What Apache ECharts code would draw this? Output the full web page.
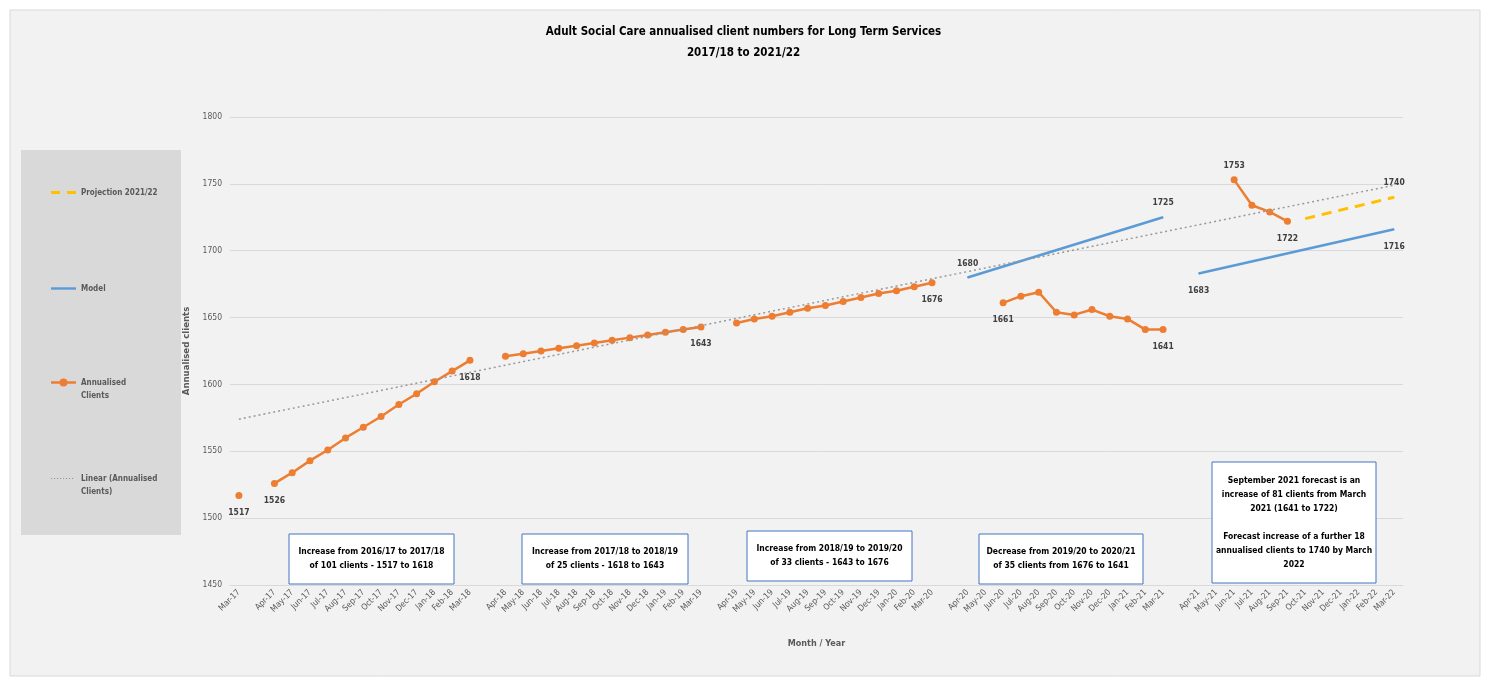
<!DOCTYPE html>
<html>
<head>
<meta charset="utf-8">
<style>
  html, body { margin: 0; padding: 0; background: #ffffff; }
  #chart { width: 1487px; height: 684px; }
</style>
<script src="https://cdn.jsdelivr.net/npm/echarts@6/dist/echarts.min.js"></script>
</head>
<body>
<div id="chart"></div>
<script>
// Month labels, one financial year per block; '' marks the spacer between years
const categories = [
  'Mar-17', '',
  'Apr-17','May-17','Jun-17','Jul-17','Aug-17','Sep-17','Oct-17','Nov-17','Dec-17','Jan-18','Feb-18','Mar-18', '',
  'Apr-18','May-18','Jun-18','Jul-18','Aug-18','Sep-18','Oct-18','Nov-18','Dec-18','Jan-19','Feb-19','Mar-19', '',
  'Apr-19','May-19','Jun-19','Jul-19','Aug-19','Sep-19','Oct-19','Nov-19','Dec-19','Jan-20','Feb-20','Mar-20', '',
  'Apr-20','May-20','Jun-20','Jul-20','Aug-20','Sep-20','Oct-20','Nov-20','Dec-20','Jan-21','Feb-21','Mar-21', '',
  'Apr-21','May-21','Jun-21','Jul-21','Aug-21','Sep-21','Oct-21','Nov-21','Dec-21','Jan-22','Feb-22','Mar-22'
];

// Annualised clients (Apr..Mar of each year, null = not reported)
const clientsMar17  = [1517];
const clients1718   = [1526, 1534, 1543, 1551, 1560, 1568, 1576, 1585, 1593, 1602, 1610, 1618];
const clients1819   = [1621, 1623, 1625, 1627, 1629, 1631, 1633, 1635, 1637, 1639, 1641, 1643];
const clients1920   = [1646, 1649, 1651, 1654, 1657, 1659, 1662, 1665, 1668, 1670, 1673, 1676];
const clients2021   = [null, null, 1661, 1666, 1669, 1654, 1652, 1656, 1651, 1649, 1641, 1641];
const clients2122   = [null, null, 1753, 1734, 1729, 1722, null, null, null, null, null, null];

// Model lines: start and end values
const model2021 = { from: 'Apr-20', to: 'Mar-21', start: 1680, end: 1725 };
const model2122 = { from: 'Apr-21', to: 'Mar-22', start: 1683, end: 1716 };

// Projection 2021/22
const projection = { from: 'Oct-21', to: 'Mar-22', start: 1724, end: 1740 };

// Linear trend of annualised clients
const trend = { from: 'Mar-17', to: 'Mar-22', start: 1574, end: 1749 };

// Y axis
const yMin = 1450, yMax = 1800, yStep = 50;

// ---------- build aligned series arrays ----------
const N = categories.length;
const annualised = [].concat(clientsMar17, [null], clients1718, [null], clients1819, [null],
                             clients1920, [null], clients2021, [null], clients2122);

function endpoints(seg) {
  const arr = new Array(N).fill(null);
  arr[categories.indexOf(seg.from)] = seg.start;
  arr[categories.indexOf(seg.to)] = seg.end;
  return arr;
}

const FONT = 'DejaVu Sans Condensed, Liberation Sans, sans-serif';

const labelStyle = { fontFamily: FONT, fontSize: 8.5, fontWeight: 'bold', color: '#404040' };

// which points carry a data label, and on which side
const clientLabels = { 'Mar-17': 'bottom', 'Apr-17': 'bottom', 'Mar-18': 'bottom', 'Mar-19': 'bottom',
                       'Mar-20': 'bottom', 'Jun-20': 'bottom', 'Mar-21': 'bottom', 'Jun-21': 'top', 'Sep-21': 'bottom' };

// values -> series data; labelled points get a label, endpoint-only series get a tiny marker to hold it
function withLabels(arr, sides, markerOnly) {
  return arr.map((v, i) => {
    if (v == null) return '-';
    const side = sides[categories[i]];
    const item = { value: v };
    if (markerOnly) { item.symbol = 'circle'; item.symbolSize = 1; }
    if (side) {
      const distance = markerOnly ? (side === 'top' ? 9 : 12) : (side === 'top' ? 6 : 9);
      item.label = Object.assign({ show: true, position: side, distance: distance }, labelStyle);
    }
    return item;
  });
}

// legend icons (25 x 10 box; the two zero-length moves fix the box)
const BOX = 'M0,0L0,0M25,10L25,10';
const iconDash = 'path://' + BOX + 'M0,3.5L9,3.5L9,6.5L0,6.5ZM16,3.5L25,3.5L25,6.5L16,6.5Z';
const iconLine = 'path://' + BOX + 'M0,3.8L25,3.8L25,6.2L0,6.2Z';
const iconMarker = 'path://' + BOX + 'M0,3.8L25,3.8L25,6.2L0,6.2ZM16.5,5A4,4,0,1,1,8.5,5A4,4,0,1,1,16.5,5Z';
let dots = '';
for (let k = 0; k < 8; k++) { const x = k * 3; dots += 'M' + x + ',4.4L' + (x + 1.2) + ',4.4L' + (x + 1.2) + ',5.6L' + x + ',5.6Z'; }
const iconDots = 'path://' + BOX + dots;

const chart = echarts.init(document.getElementById('chart'));

// annotation text boxes
const notes = [
  { x: 289, y: 534, w: 165, h: 50, text: 'Increase from 2016/17 to 2017/18\nof 101 clients - 1517 to 1618' },
  { x: 522, y: 534, w: 166, h: 50, text: 'Increase from 2017/18 to 2018/19\nof 25 clients - 1618 to 1643' },
  { x: 747, y: 531, w: 165, h: 50, text: 'Increase from 2018/19 to 2019/20\nof 33 clients - 1643 to 1676' },
  { x: 979, y: 534, w: 164, h: 50, text: 'Decrease from 2019/20 to 2020/21\nof 35 clients from 1676 to 1641' },
  { x: 1212, y: 462, w: 164, h: 121, text: 'September 2021 forecast is an\nincrease of 81 clients from March\n2021 (1641 to 1722)\n\nForecast increase of a further 18\nannualised clients to 1740 by March\n2022' }
];

const graphics = [
  { type: 'rect', z: -10, silent: true, shape: { x: 10, y: 10, width: 1470, height: 666 },
    style: { fill: '#f2f2f2', stroke: '#d9d9d9', lineWidth: 1 } },
  { type: 'rect', z: -5, silent: true, shape: { x: 21, y: 150, width: 160, height: 385 },
    style: { fill: '#d9d9d9' } }
];
notes.forEach(n => {
  graphics.push({ type: 'rect', z: 50, shape: { x: n.x, y: n.y, width: n.w, height: n.h },
    style: { fill: '#ffffff', stroke: '#4472c4', lineWidth: 1 } });
  graphics.push({ type: 'text', z: 51, x: n.x + n.w / 2, y: n.y + n.h / 2,
    style: { text: n.text, fill: '#000000', font: 'bold 8.5px ' + FONT, lineHeight: 14,
             align: 'center', verticalAlign: 'middle' } });
});

const legendBase = {
  orient: 'vertical', left: 51, itemWidth: 25, itemHeight: 10, itemGap: 0, padding: 0,
  textStyle: { fontFamily: FONT, fontSize: 8, fontWeight: 'bold', color: '#595959', lineHeight: 13 },
  selectedMode: false
};

const option = {
  animation: false,
  title: {
    text: 'Adult Social Care annualised client numbers for Long Term Services\n2017/18 to 2021/22',
    left: 'center', top: 17,
    textStyle: { fontFamily: FONT, fontSize: 11.5, fontWeight: 'bold', color: '#000000', lineHeight: 21 }
  },
  graphic: graphics,
  legend: [
    Object.assign({}, legendBase, { top: 186, data: [{ name: 'Projection 2021/22', icon: iconDash }] }),
    Object.assign({}, legendBase, { top: 282, data: [{ name: 'Model', icon: iconLine }] }),
    Object.assign({}, legendBase, { top: 363, data: [{ name: 'Annualised Clients', icon: iconMarker }],
      formatter: () => ' \nAnnualised\nClients' }),
    Object.assign({}, legendBase, { top: 459, data: [{ name: 'Linear (Annualised Clients)', icon: iconDots }],
      formatter: () => ' \nLinear (Annualised\nClients)' })
  ],
  grid: { left: 230, right: 84, top: 117, bottom: 99, containLabel: false },
  xAxis: {
    type: 'category', data: categories, boundaryGap: true,
    name: 'Month / Year', nameLocation: 'middle', nameGap: 54,
    nameTextStyle: { fontFamily: FONT, fontSize: 9, fontWeight: 'bold', color: '#595959' },
    axisLine: { show: true, lineStyle: { color: '#d9d9d9', width: 1 } },
    axisTick: { show: false },
    axisLabel: { interval: 0, rotate: 45, fontFamily: FONT, fontSize: 8.5, color: '#595959', margin: 6 }
  },
  yAxis: {
    type: 'value', min: yMin, max: yMax, interval: yStep,
    name: 'Annualised clients', nameLocation: 'middle', nameGap: 35, nameRotate: 90,
    nameTextStyle: { fontFamily: FONT, fontSize: 9.5, fontWeight: 'bold', color: '#595959' },
    axisLine: { show: false }, axisTick: { show: false },
    axisLabel: { fontFamily: FONT, fontSize: 8.5, color: '#595959', margin: 8, formatter: v => String(v) },
    splitLine: { lineStyle: { color: '#d9d9d9', width: 1 } }
  },
  series: [
    {
      name: 'Projection 2021/22', type: 'line', symbol: 'none', connectNulls: true, z: 4,
      lineStyle: { color: '#ffc000', width: 3, type: [10, 7] }, itemStyle: { color: '#ffc000' },
      data: withLabels(endpoints(projection), { 'Mar-22': 'top' }, true)
    },
    {
      name: 'Model', type: 'line', symbol: 'none', connectNulls: true, z: 3,
      lineStyle: { color: '#5b9bd5', width: 2.5 }, itemStyle: { color: '#5b9bd5' },
      data: withLabels(endpoints(model2021), { 'Apr-20': 'top', 'Mar-21': 'top' }, true)
    },
    {
      name: 'Model', type: 'line', symbol: 'none', connectNulls: true, z: 3,
      lineStyle: { color: '#5b9bd5', width: 2.5 }, itemStyle: { color: '#5b9bd5' },
      data: withLabels(endpoints(model2122), { 'Apr-21': 'bottom', 'Mar-22': 'bottom' }, true)
    },
    {
      name: 'Annualised Clients', type: 'line', symbol: 'circle', symbolSize: 7, showAllSymbol: true,
      connectNulls: false, z: 5,
      lineStyle: { color: '#ed7d31', width: 2.5 }, itemStyle: { color: '#ed7d31' },
      data: withLabels(annualised, clientLabels, false)
    },
    {
      name: 'Linear (Annualised Clients)', type: 'line', symbol: 'none', connectNulls: true, z: 6,
      lineStyle: { color: '#999999', width: 1.5, type: [2, 3] }, itemStyle: { color: '#999999' },
      data: endpoints(trend)
    }
  ]
};

chart.setOption(option);
</script>
</body>
</html>
